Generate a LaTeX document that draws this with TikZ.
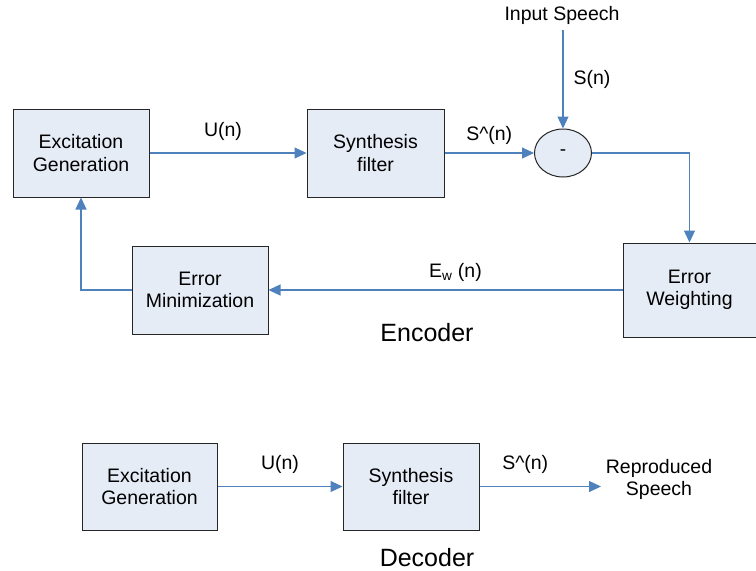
\documentclass[tikz,border=0pt]{standalone}
\usepackage{fontspec}
\setmainfont{Liberation Sans}
\usetikzlibrary{arrows.meta,shapes.geometric}
\definecolor{boxfill}{HTML}{E6ECF6}
\definecolor{linkblue}{HTML}{4F81BD}
\tikzset{
  blockbox/.style={draw=black!85, fill=boxfill, line width=1pt, align=center,
    font=\fontsize{19.5}{22.5}\selectfont, inner sep=0pt},
  sumnode/.style={draw=black!85, fill=boxfill, line width=1pt, ellipse,
    minimum width=57pt, minimum height=48pt, inner sep=0pt, font=\fontsize{19}{22}\selectfont},
  link/.style={draw=linkblue, line width=1.2pt, -{Triangle[length=12pt,width=11pt]}},
  lbl/.style={font=\fontsize{19.5}{22.5}\selectfont, inner sep=0pt, align=center},
  title/.style={font=\fontsize{25}{28}\selectfont, inner sep=0pt}
}
\begin{document}
\begin{tikzpicture}[x=1pt,y=-1pt]
\useasboundingbox (0,0) rectangle (756,571);

% encoder blocks
\node[blockbox, minimum width=136pt, minimum height=88pt] (exc) at (81,153) {Excitation\\Generation};
\node[blockbox, minimum width=137pt, minimum height=88pt] (syn) at (375.5,153) {Synthesis\\filter};
\node[sumnode] (sum) at (563,153) {-};
\node[blockbox, minimum width=133pt, minimum height=94pt] (wgt) at (689.5,290) {Error\\Weighting};
\node[blockbox, minimum width=136pt, minimum height=88pt] (min) at (200,290) {Error\\Minimization};

\node[lbl] (inp) at (562,15) {Input Speech};
\coordinate (inpend) at (563,30);

% encoder connections
\draw[link] (exc) -- node[lbl, above=12pt, xshift=-5pt] (un) {U(n)} (syn);
\draw[link] (syn) -- node[lbl, above=8pt] (shat) {S\^{}(n)} (sum);
\draw[link] (inpend) -- node[lbl, right=10pt, pos=0.5] (sn) {S(n)} (sum);
\draw[link] (sum.east) -| (wgt.north);
\draw[link] (wgt) -- node[lbl, above=8pt, xshift=10pt] (ew) {E\textsubscript{w} (n)} (min);
\draw[link] (min.west) -| (exc.south);

\node[title] (enc) at (427,333) {Encoder};

% decoder blocks
\node[blockbox, minimum width=135pt, minimum height=87pt] (dexc) at (149.5,486.5) {Excitation\\Generation};
\node[blockbox, minimum width=136pt, minimum height=87pt] (dsyn) at (411,486.5) {Synthesis\\filter};
\node[lbl, font=\fontsize{19.5}{22}\selectfont] (rep) at (659,479) {Reproduced\\Speech};
\coordinate (repend) at (601,486.5);

\draw[link] (dexc) -- node[lbl, above=12pt] (dun) {U(n)} (dsyn);
\draw[link] (dsyn) -- node[lbl, above=12pt, xshift=-15pt] (dshat) {S\^{}(n)} (repend);

\node[title] (dec) at (427,558) {Decoder};
\end{tikzpicture}
\end{document}
